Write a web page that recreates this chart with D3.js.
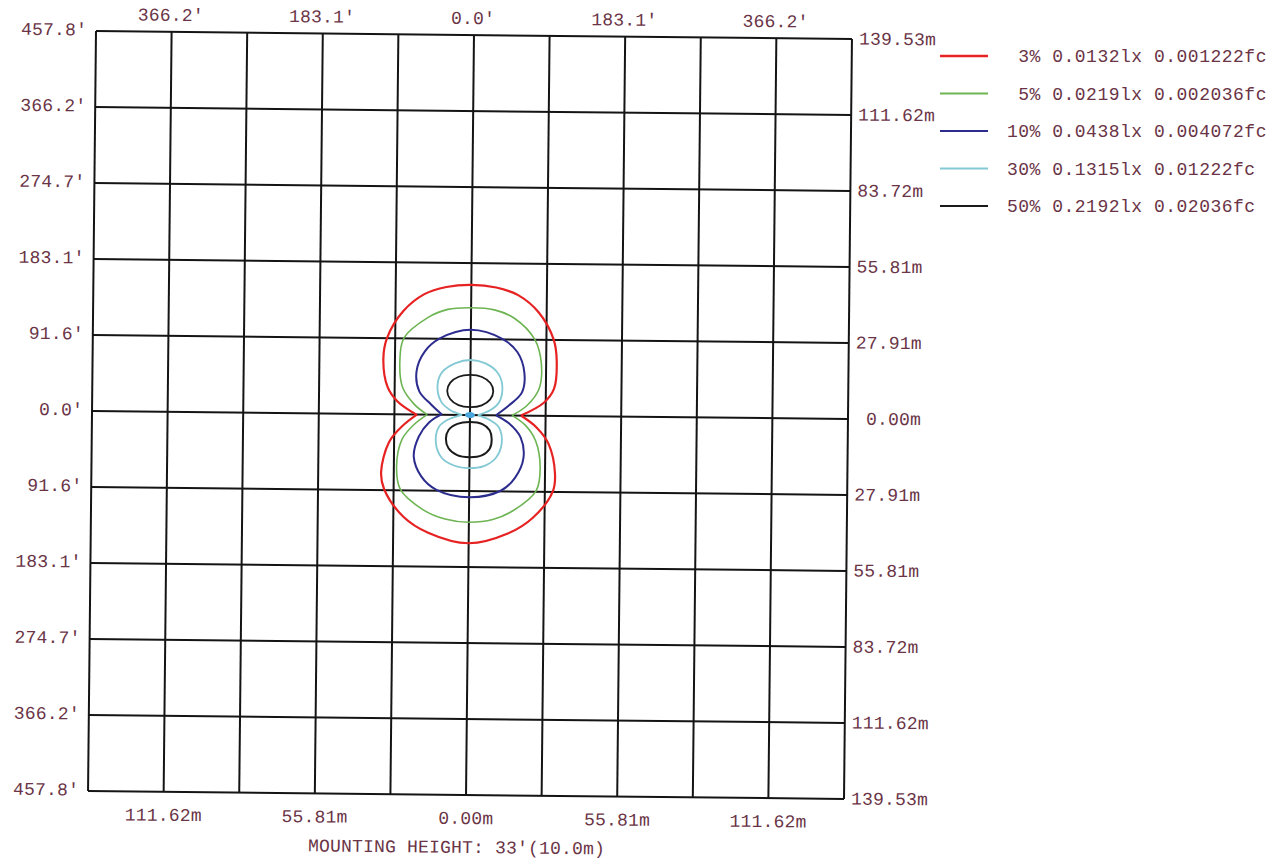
<!DOCTYPE html>
<html><head><meta charset="utf-8">
<script src="https://cdn.jsdelivr.net/npm/d3@7"></script>
<style>
body{margin:0;background:#fff}
text{font-family:"Liberation Mono",monospace;font-size:18px;fill:#6a3446;white-space:pre;letter-spacing:0.2px}
</style></head>
<body>
<svg id="c" width="1285" height="861"></svg>
<script>
// ---- axis / grid data ----
const gridMeters = [-139.53,-111.62,-83.72,-55.81,-27.91,0,27.91,55.81,83.72,111.62,139.53];
const leftLabels = ["457.8'","366.2'","274.7'","183.1'","91.6'","0.0'","91.6'","183.1'","274.7'","366.2'","457.8'"];
const rightLabels = ["139.53m","111.62m","83.72m","55.81m","27.91m"," 0.00m","27.91m","55.81m","83.72m","111.62m","139.53m"];
const topTickValues = [-111.62,-55.81,0,55.81,111.62];
const topLabels = ["366.2'","183.1'","0.0'","183.1'","366.2'"];
const bottomTickValues = [-111.62,-55.81,0,55.81,111.62];
const bottomLabels = ["111.62m","55.81m","0.00m","55.81m","111.62m"];
const titleText = "MOUNTING HEIGHT: 33'(10.0m)";

// ---- legend data ----
const legendPct = ["3%","5%","10%","30%","50%"];
const legendLux = ["0.0132","0.0219","0.0438","0.1315","0.2192"];
const legendFc = ["0.001222","0.002036","0.004072","0.01222","0.02036"];
const legendColors = ["#e62222","#6db452","#2c2c8e","#82c9d4","#1a1a1a"];

// ---- isolux contours (metres, +y = up) ----
const c3Top = [[18.8,0],[27.2,4.8],[30.9,9.9],[31.8,20.2],[30.6,28.0],[25.0,37.9],[17.3,44.2],[9.2,46.9],[0,47.8],[-9.2,46.9],[-17.3,44.2],[-25.0,37.9],[-30.9,28.0],[-32.2,20.2],[-30.5,9.9],[-26.9,4.8],[-19.9,0]];
const c3Bot = [[-19.5,0],[-25.0,-4.4],[-29.8,-10.3],[-32.6,-21.3],[-31.4,-27.6],[-24.3,-37.5],[-15.0,-43.4],[0,-47.1],[14.4,-43.4],[23.6,-37.5],[30.9,-27.6],[31.6,-21.3],[29.1,-10.3],[24.7,-4.4],[18.8,0]];
const c5Top = [[15.5,0],[21.0,3.7],[25.4,9.9],[26.1,19.5],[23.6,28.0],[16.0,35.7],[8.6,38.7],[0,39.4],[-8.6,38.7],[-15.8,35.7],[-24.7,28.0],[-26.1,19.5],[-25.0,9.9],[-20.6,3.7],[-15.8,0]];
const c5Bot = [[-15.8,0],[-20.6,-3.7],[-25.0,-9.2],[-26.9,-19.1],[-25.4,-27.6],[-16.9,-35.0],[-8.8,-38.3],[0,-39.4],[8.8,-38.3],[16.2,-35.0],[24.7,-27.6],[26.1,-19.1],[24.3,-9.2],[20.6,-3.7],[15.5,0]];
const c10Top = [[9.6,0],[14.4,3.7],[19.1,8.5],[19.9,15.8],[17.3,23.2],[11.8,28.0],[0,31.3],[-11.4,28.0],[-16.9,23.2],[-19.9,15.8],[-18.8,8.5],[-14.4,3.7],[-10.3,0]];
const c10Bot = [[-10.7,0],[-15.1,-2.9],[-18.8,-8.1],[-20.6,-15.5],[-17.7,-22.8],[-12.1,-27.6],[0,-30.2],[11.8,-27.6],[16.9,-22.8],[19.9,-15.5],[18.8,-8.1],[14.4,-2.9],[9.6,0]];
const c30Top = [[2.9,0],[7.4,1.8],[10.7,4.8],[11.8,11.0],[9.9,15.8],[5.5,19.0],[0,20.2],[-5.5,19.0],[-10.3,15.8],[-12.1,11.0],[-10.7,4.8],[-7.4,1.8],[-2.9,0]];
const c30Bot = [[-2.9,0],[-8.1,-1.8],[-11.4,-4.4],[-12.5,-10.3],[-10.3,-15.8],[-5.5,-18.7],[0,-19.5],[5.3,-18.7],[9.6,-15.8],[11.8,-10.3],[10.7,-4.4],[7.4,-1.8],[2.9,0]];
const c50Top = [[8.5,8.8],[7.4,11.8],[4.3,14.0],[0,14.7],[-4.3,14.0],[-7.4,11.8],[-8.5,8.8],[-7.4,5.8],[-4.3,3.6],[0,2.9],[4.3,3.6],[7.4,5.8]];
const c50Bot = [[0,-2.6],[4.6,-3.3],[7.3,-5.5],[8.1,-8.8],[7.4,-12.3],[4.5,-14.8],[0,-15.5],[-4.6,-14.8],[-7.8,-12.3],[-8.8,-8.8],[-7.8,-5.5],[-4.6,-3.3]];
const luminaire = [0,0];

const svg = d3.select("#c");
const x = d3.scaleLinear().domain([-139.53,139.53]).range([92,848]);
const y = d3.scaleLinear().domain([139.53,-139.53]).range([35,795]);

const g = svg.append("g").attr("transform","rotate(0.6,470,415)");

// grid
g.selectAll("line.v").data(gridMeters).enter().append("line")
  .attr("x1",d=>x(d)).attr("x2",d=>x(d)).attr("y1",y(139.53)).attr("y2",y(-139.53))
  .attr("stroke","#141414").attr("stroke-width",2);
g.selectAll("line.h").data(gridMeters).enter().append("line")
  .attr("y1",d=>y(d)).attr("y2",d=>y(d)).attr("x1",x(-139.53)).attr("x2",x(139.53))
  .attr("stroke","#141414").attr("stroke-width",2);

// contours
const open = d3.line().x(d=>x(d[0])).y(d=>y(d[1])).curve(d3.curveCatmullRom.alpha(0.5));
const closed = d3.line().x(d=>x(d[0])).y(d=>y(d[1])).curve(d3.curveCatmullRomClosed.alpha(0.5));
const contours = [
  {pts:c3Top,col:legendColors[0],w:2.2,cl:false},{pts:c3Bot,col:legendColors[0],w:2.2,cl:false},
  {pts:c5Top,col:legendColors[1],w:1.6,cl:false},{pts:c5Bot,col:legendColors[1],w:1.6,cl:false},
  {pts:c10Top,col:legendColors[2],w:2.0,cl:false},{pts:c10Bot,col:legendColors[2],w:2.0,cl:false},
  {pts:c30Top,col:legendColors[3],w:1.8,cl:false},{pts:c30Bot,col:legendColors[3],w:1.8,cl:false},
  {pts:c50Top,col:legendColors[4],w:1.8,cl:true},{pts:c50Bot,col:legendColors[4],w:2.0,cl:true}
];
g.selectAll("path.c").data(contours).enter().append("path")
  .attr("d",d=>d.cl?closed(d.pts):open(d.pts))
  .attr("fill","none").attr("stroke",d=>d.col).attr("stroke-width",d=>d.w);
g.append("ellipse").attr("cx",x(luminaire[0])).attr("cy",y(luminaire[1]))
  .attr("rx",5).attr("ry",3).attr("fill","#4aa6dc");

// labels
g.selectAll("text.l").data(leftLabels).enter().append("text")
  .attr("x",83).attr("y",(d,i)=>y(gridMeters[10-i])+4.5).attr("text-anchor","end").text(d=>d);
g.selectAll("text.r").data(rightLabels).enter().append("text")
  .attr("x",855).attr("y",(d,i)=>y(gridMeters[10-i])+5.5).text(d=>d);
g.selectAll("text.t").data(topLabels).enter().append("text")
  .attr("x",(d,i)=>x(topTickValues[i])-1).attr("y",24).attr("text-anchor","middle").text(d=>d);
g.selectAll("text.b").data(bottomLabels).enter().append("text")
  .attr("x",(d,i)=>x(bottomTickValues[i])).attr("y",824).attr("text-anchor","middle").text(d=>d);
g.append("text").attr("x",461).attr("y",853).attr("text-anchor","middle").text(titleText);

// legend
const ly = d3.scalePoint().domain(legendPct).range([56,206]);
const lg = svg.append("g");
lg.selectAll("line").data(legendPct).enter().append("line")
  .attr("x1",940).attr("x2",988).attr("y1",d=>ly(d)).attr("y2",d=>ly(d))
  .attr("stroke",(d,i)=>legendColors[i]).attr("stroke-width",(d,i)=>i===0?2.4:1.8);
lg.selectAll("text").data(legendPct).enter().append("text")
  .attr("x",1007).attr("y",d=>ly(d)+6).style("letter-spacing","0.5px")
  .text((d,i)=>d.padStart(3," ")+" "+legendLux[i]+"lx "+legendFc[i]+"fc");
</script>
</body></html>
